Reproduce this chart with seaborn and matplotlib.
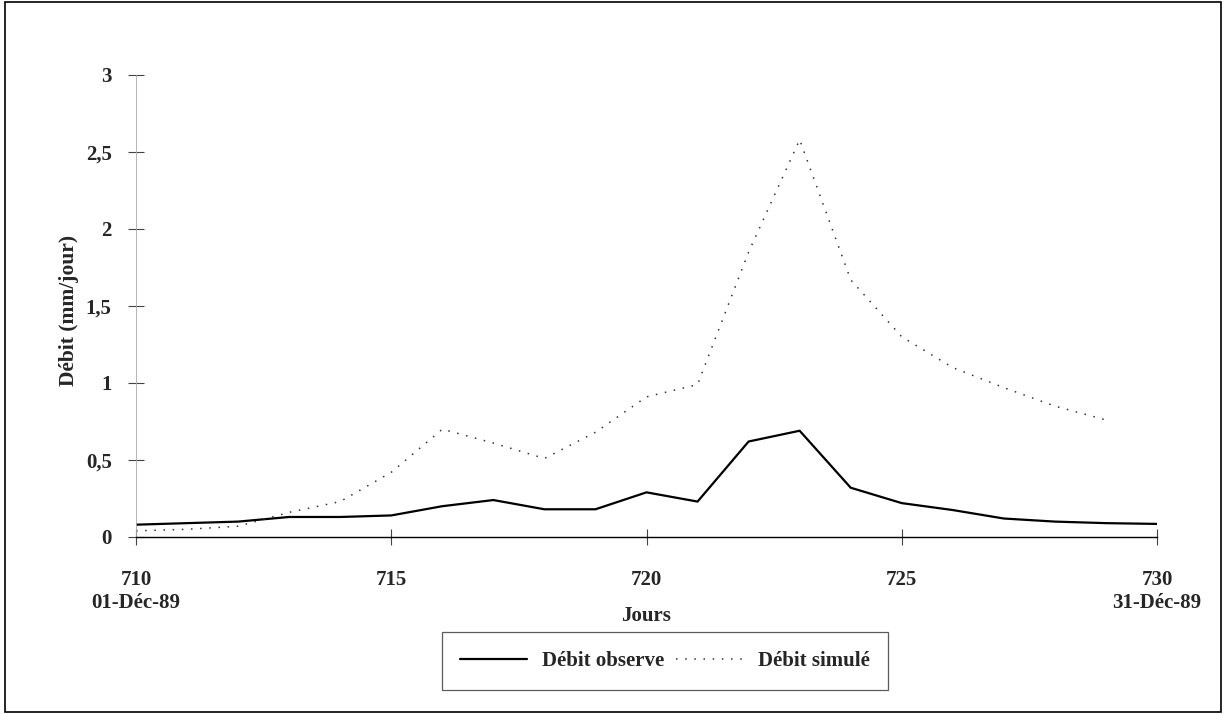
import numpy as np
import pandas as pd
import matplotlib
matplotlib.use("Agg")
import matplotlib.pyplot as plt
import seaborn as sns
from matplotlib.patches import Rectangle

# =====================================================================
# DATA
# =====================================================================
jours = list(range(710, 731))
debit_observe = [0.08, 0.09, 0.10, 0.13, 0.13, 0.14, 0.20, 0.24, 0.18, 0.18,
                 0.29, 0.23, 0.62, 0.69, 0.32, 0.22, 0.175, 0.12, 0.10, 0.09, 0.085]
debit_simule = [0.04, 0.05, 0.07, 0.16, 0.23, 0.42, 0.70, 0.61, 0.51, 0.68,
                0.91, 0.99, 1.85, 2.58, 1.67, 1.30, 1.10, 0.97, 0.85, 0.76, np.nan]

y_ticks = [0, 0.5, 1, 1.5, 2, 2.5, 3]
y_tick_labels = ["0", "0,5", "1", "1,5", "2", "2,5", "3"]
x_ticks = [710, 715, 720, 725, 730]
x_tick_labels = ["710\n01-Déc-89", "715", "720", "725", "730\n31-Déc-89"]

df = pd.DataFrame({"jour": jours, "obs": debit_observe, "sim": debit_simule})

# =====================================================================
# PLOT
# =====================================================================
sns.set_theme(style="white")
plt.rcParams["font.family"] = ["Liberation Serif", "DejaVu Serif"]
plt.rcParams["font.weight"] = "bold"

fig = plt.figure(figsize=(12.25, 7.14), dpi=100)
ax = fig.add_axes([136 / 1225, 1 - 537 / 714, (1157 - 136) / 1225, (537 - 75) / 714])

sns.lineplot(data=df, x="jour", y="obs", ax=ax, color="black", linewidth=1.6,
             label="Débit observe")
sns.lineplot(data=df, x="jour", y="sim", ax=ax, color="#333333", linewidth=1.1,
             linestyle=(0, (1, 5)), label="Débit simulé")

ax.set_xlim(710, 730)
ax.set_ylim(0, 3)
ax.set_xticks(x_ticks)
ax.set_xticklabels(x_tick_labels, fontsize=15, fontweight="bold", linespacing=1.2)
ax.set_yticks(y_ticks)
ax.set_yticklabels(y_tick_labels, fontsize=15, fontweight="bold")
ax.tick_params(axis="both", bottom=True, left=True, direction="inout",
               length=11, width=0.8, color="#444444")
ax.tick_params(axis="x", pad=18)
ax.tick_params(axis="y", pad=12)

for s in ["top", "right"]:
    ax.spines[s].set_visible(False)
ax.spines["left"].set_color("#aaaaaa")
ax.spines["left"].set_linewidth(0.6)
ax.spines["bottom"].set_color("black")
ax.spines["bottom"].set_linewidth(1.0)

ax.set_xlabel("Jours", fontsize=15, fontweight="bold")
ax.xaxis.set_label_coords(0.5, -0.15)
ax.set_ylabel("Débit (mm/jour)", fontsize=15.5, fontweight="bold")
ax.yaxis.set_label_coords(-0.056, 0.49)

ax.get_legend().remove()
handles, labels = ax.get_legend_handles_labels()
leg = fig.legend(handles, labels, loc="center", ncol=2,
                 bbox_to_anchor=(665 / 1225, 1 - 661 / 714),
                 frameon=True, fancybox=False, shadow=False,
                 prop={"family": ["Liberation Serif"], "weight": "bold", "size": 15},
                 handlelength=3.2, handletextpad=0.7, columnspacing=0.6,
                 borderpad=0.9)
leg.get_frame().set_edgecolor("#333333")
leg.get_frame().set_linewidth(0.9)

# outer frame of the scanned figure
fig.patches.append(Rectangle((0.004, 0.003), 0.993, 0.994, transform=fig.transFigure,
                             fill=False, edgecolor="black", linewidth=1.2))

fig.savefig("out.png", dpi=100)
